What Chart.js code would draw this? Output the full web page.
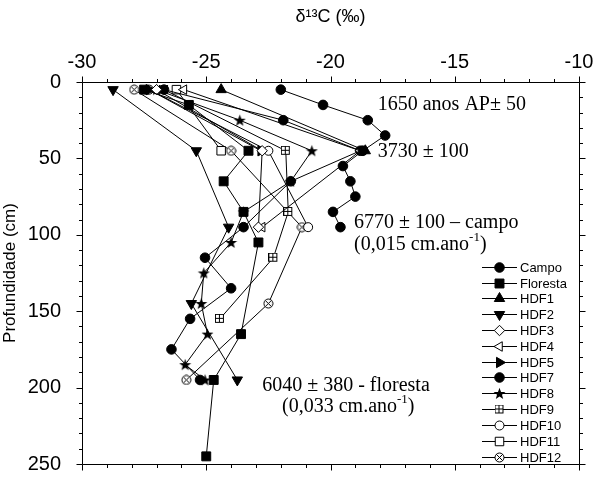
<!DOCTYPE html>
<html><head><meta charset="utf-8">
<script src="https://cdn.jsdelivr.net/npm/chart.js@4.4.1/dist/chart.umd.min.js"></script>
<style>html,body{margin:0;padding:0;background:#fff}#wrap{width:599px;height:485px;position:relative}</style>
</head><body><div id="wrap"><canvas id="c"></canvas></div>
<script>
// ---------------- DATA ----------------
const xTickValues = [-30, -25, -20, -15, -10];
const yTickValues = [0, 50, 100, 150, 200, 250];
const seriesNames = ['Campo','Floresta','HDF1','HDF2','HDF3','HDF4','HDF5','HDF7','HDF8','HDF9','HDF10','HDF11','HDF12'];

const campoDepth   = [5, 15, 25, 35, 45, 55, 65, 75, 85, 95];
const campoD13C    = [-22.0, -20.3, -18.5, -17.8, -18.7, -19.5, -19.2, -19.0, -19.9, -19.6];
const florestaDepth= [5, 15, 45, 65, 85, 105, 165, 195, 245];
const florestaD13C = [-27.5, -25.7, -23.3, -24.3, -23.5, -22.9, -23.6, -24.7, -25.0];
const hdf1Depth  = [5, 45];
const hdf1D13C   = [-24.4, -18.6];
const hdf2Depth  = [5, 45, 95, 145, 195];
const hdf2D13C   = [-28.75, -25.4, -24.1, -25.6, -23.75];
const hdf3Depth  = [5, 45, 95];
const hdf3D13C   = [-27.0, -22.75, -22.9];
const hdf4Depth  = [5, 45, 95];
const hdf4D13C   = [-25.9, -18.8, -22.75];
const hdf5Depth  = [5, 45];
const hdf5D13C   = [-27.3, -22.8];
const hdf7Depth  = [5, 25, 45, 65, 95, 115, 135, 155, 175, 195];
const hdf7D13C   = [-26.7, -21.9, -18.8, -21.6, -23.5, -25.05, -24.0, -25.65, -26.4, -25.25];
const hdf8Depth  = [5, 25, 45, 65, 85, 105, 125, 145, 165, 185, 195];
const hdf8D13C   = [-27.0, -23.65, -20.75, -21.6, -23.5, -24.0, -25.1, -25.2, -24.95, -25.85, -25.05];
const hdf9Depth  = [5, 45, 85, 115, 155];
const hdf9D13C   = [-26.7, -21.8, -21.7, -22.3, -24.45];
const hdf10Depth = [5, 45, 95];
const hdf10D13C  = [-27.3, -22.5, -20.9];
const hdf11Depth = [5, 45];
const hdf11D13C  = [-26.2, -24.4];
const hdf12Depth = [5, 45, 95, 145, 195];
const hdf12D13C  = [-27.9, -24.0, -21.15, -22.5, -25.8];

// ---------------- MARKERS ----------------
function mk(w, h, draw){ const c=document.createElement('canvas'); c.width=w; c.height=h; draw(c.getContext('2d')); return c; }
const starImg = mk(13,13,g=>{ g.beginPath(); const cx=6.5, cy=7, R=6.3, r=2.6;
  for(let i=0;i<10;i++){ const a=-Math.PI/2+i*Math.PI/5, rr=i%2?r:R; g.lineTo(cx+rr*Math.cos(a), cy+rr*Math.sin(a)); }
  g.closePath(); g.fillStyle='#000'; g.fill(); });
const boxPlusImg = mk(10,10,g=>{ g.fillStyle='#fff'; g.fillRect(0.5,0.5,8,8); g.strokeStyle='#000'; g.lineWidth=1;
  g.strokeRect(0.5,0.5,8,8); g.beginPath(); g.moveTo(4.5,0.5); g.lineTo(4.5,8.5); g.moveTo(0.5,4.5); g.lineTo(8.5,4.5); g.stroke(); });
const circXImg = mk(11,11,g=>{ const c=5.5, r=4.5; g.beginPath(); g.arc(c,c,r,0,2*Math.PI); g.fillStyle='#fff'; g.fill();
  g.strokeStyle='#000'; g.lineWidth=1; g.stroke(); const d=r*0.72; g.beginPath();
  g.moveTo(c-d,c-d); g.lineTo(c+d,c+d); g.moveTo(c+d,c-d); g.lineTo(c-d,c+d); g.stroke(); });

const styles = {
  'Campo':    {pointStyle:'circle', pointRadius:4.8, pointBackgroundColor:'#000'},
  'Floresta': {pointStyle:'rect', pointRadius:6.3, pointBackgroundColor:'#000'},
  'HDF1':     {pointStyle:'triangle', pointRadius:6, pointBackgroundColor:'#000'},
  'HDF2':     {pointStyle:'triangle', pointRotation:180, pointRadius:6, pointBackgroundColor:'#000'},
  'HDF3':     {pointStyle:'rectRot', pointRadius:5.2, pointBackgroundColor:'#fff'},
  'HDF4':     {pointStyle:'triangle', pointRotation:-90, pointRadius:5.5, pointBackgroundColor:'#fff'},
  'HDF5':     {pointStyle:'triangle', pointRotation:90, pointRadius:6, pointBackgroundColor:'#000'},
  'HDF7':     {pointStyle:'circle', pointRadius:4.8, pointBackgroundColor:'#000'},
  'HDF8':     {pointStyle:starImg, pointRadius:5},
  'HDF9':     {pointStyle:boxPlusImg, pointRadius:4.5},
  'HDF10':    {pointStyle:'circle', pointRadius:4.5, pointBackgroundColor:'#fff'},
  'HDF11':    {pointStyle:'rect', pointRadius:6, pointBackgroundColor:'#fff'},
  'HDF12':    {pointStyle:circXImg, pointRadius:4.5}
};
const seriesDepths = [campoDepth, florestaDepth, hdf1Depth, hdf2Depth, hdf3Depth, hdf4Depth, hdf5Depth, hdf7Depth, hdf8Depth, hdf9Depth, hdf10Depth, hdf11Depth, hdf12Depth];
const seriesValues = [campoD13C, florestaD13C, hdf1D13C, hdf2D13C, hdf3D13C, hdf4D13C, hdf5D13C, hdf7D13C, hdf8D13C, hdf9D13C, hdf10D13C, hdf11D13C, hdf12D13C];

const datasets = seriesNames.map((name, k) => Object.assign({
  label: name,
  data: seriesDepths[k].map((d, i) => ({x: seriesValues[k][i], y: d})),
  borderColor: '#000', borderWidth: 1, pointBorderColor: '#000', pointBorderWidth: 1,
  fill: false, tension: 0, clip: false
}, styles[name]));

// ---------------- PLUGINS ----------------
const framePlugin = {
  id: 'frame',
  afterDraw(chart){
    const {ctx, chartArea: a, scales: {x, y}} = chart;
    ctx.save(); ctx.strokeStyle = '#000'; ctx.lineWidth = 1;
    const L = Math.round(a.left)+0.5, R = Math.round(a.right)+0.5, T = Math.round(a.top)+0.5, B = Math.round(a.bottom)+0.5;
    ctx.beginPath(); ctx.rect(L, T, R-L, B-T);
    const xmin = xTickValues[0], xmax = xTickValues[xTickValues.length-1];
    for (let v = xmin; v <= xmax + 1e-9; v += 1) {
      const px = Math.round(x.getPixelForValue(v)) + 0.5;
      const major = xTickValues.includes(v); const len = major ? 6 : 3.5;
      ctx.moveTo(px, T); ctx.lineTo(px, T - len);
      ctx.moveTo(px, B); ctx.lineTo(px, B + len);
    }
    const ymin = yTickValues[0], ymax = yTickValues[yTickValues.length-1];
    for (let d = ymin; d <= ymax; d += 10) {
      const py = Math.round(y.getPixelForValue(d)) + 0.5;
      const major = yTickValues.includes(d); const len = major ? 6 : 3.5;
      ctx.moveTo(L, py); ctx.lineTo(L - len, py);
      ctx.moveTo(R, py); ctx.lineTo(R + len, py);
    }
    ctx.stroke();
    ctx.restore();
  }
};

const legendPlugin = {
  id: 'customLegend',
  afterDraw(chart){
    const ctx = chart.ctx;
    ctx.save();
    const x0 = 482, x1 = 517, xm = 499.5, xt = 520, y0 = 266.7, dy = 15.82;
    chart.data.datasets.forEach((ds, i) => {
      const yy = Math.round(y0 + i*dy) + 0.5;
      ctx.strokeStyle = '#000'; ctx.lineWidth = 1;
      ctx.beginPath(); ctx.moveTo(x0, yy); ctx.lineTo(x1, yy); ctx.stroke();
      ctx.fillStyle = ds.pointBackgroundColor || '#000'; ctx.strokeStyle = '#000'; ctx.lineWidth = 1;
      Chart.helpers.drawPoint(ctx, {pointStyle: ds.pointStyle, rotation: ds.pointRotation || 0, radius: ds.pointRadius, borderWidth: 1}, xm, yy);
      ctx.fillStyle = '#000'; ctx.font = '13px "Liberation Sans", Arial, sans-serif';
      ctx.textBaseline = 'middle'; ctx.textAlign = 'left';
      ctx.fillText(ds.label, xt, yy + 0.5);
    });
    ctx.restore();
  }
};

const notes = [
  {x: -18.1, d: 14.6, parts: [['1650 anos AP± 50', 0]]},
  {x: -18.1, d: 45.6, parts: [['3730 ± 100', 0]]},
  {x: -19.05, d: 92, parts: [['6770 ± 100 – campo', 0]]},
  {x: -19.05, d: 106.5, parts: [['(0,015 cm.ano', 0], ['-1', 1], [')', 0]]},
  {x: -22.75, d: 198.5, parts: [['6040 ± 380 - floresta', 0]]},
  {x: -21.95, d: 212.5, parts: [['(0,033 cm.ano', 0], ['-1', 1], [')', 0]]}
];
const notesPlugin = {
  id: 'notes',
  afterDraw(chart){
    const {ctx, scales: {x, y}} = chart;
    ctx.save(); ctx.fillStyle = '#000'; ctx.textBaseline = 'middle'; ctx.textAlign = 'left';
    notes.forEach(n => {
      let px = x.getPixelForValue(n.x); const py = y.getPixelForValue(n.d);
      n.parts.forEach(([t, sup]) => {
        ctx.font = sup ? '13px "Liberation Serif", "Times New Roman", serif' : '20px "Liberation Serif", "Times New Roman", serif';
        ctx.fillText(t, px, sup ? py - 7 : py);
        px += ctx.measureText(t).width;
      });
    });
    ctx.restore();
  }
};

// ---------------- CHART ----------------
Chart.defaults.color = '#000';
Chart.defaults.font.family = '"Liberation Sans", Arial, sans-serif';
new Chart(document.getElementById('c'), {
  type: 'line',
  data: { datasets },
  options: {
    responsive: true, maintainAspectRatio: false, animation: false,
    layout: { padding: { left: 0, right: 20, top: 0, bottom: 8 } },
    plugins: { legend: { display: false }, tooltip: { enabled: false } },
    scales: {
      x: {
        type: 'linear', position: 'top', min: xTickValues[0], max: xTickValues[xTickValues.length-1],
        grid: { display: false }, border: { display: false },
        ticks: { stepSize: 5, padding: 0, font: { size: 20 }, callback: v => String(v) },
        title: { display: true, text: 'δ¹³C (‰)', font: { size: 18 }, padding: { top: 6, bottom: 0 } },
        afterFit: s => { s.height = 82; }
      },
      y: {
        type: 'linear', reverse: true, min: yTickValues[0], max: yTickValues[yTickValues.length-1],
        grid: { display: false }, border: { display: false },
        ticks: { stepSize: 50, padding: 13, font: { size: 20, lineHeight: 0.8 } },
        title: { display: true, text: 'Profundidade (cm)', font: { size: 17 }, padding: { top: 0, bottom: 0 } },
        afterFit: s => { s.width = 82; }
      }
    }
  },
  plugins: [framePlugin, legendPlugin, notesPlugin]
});
</script></body></html>
